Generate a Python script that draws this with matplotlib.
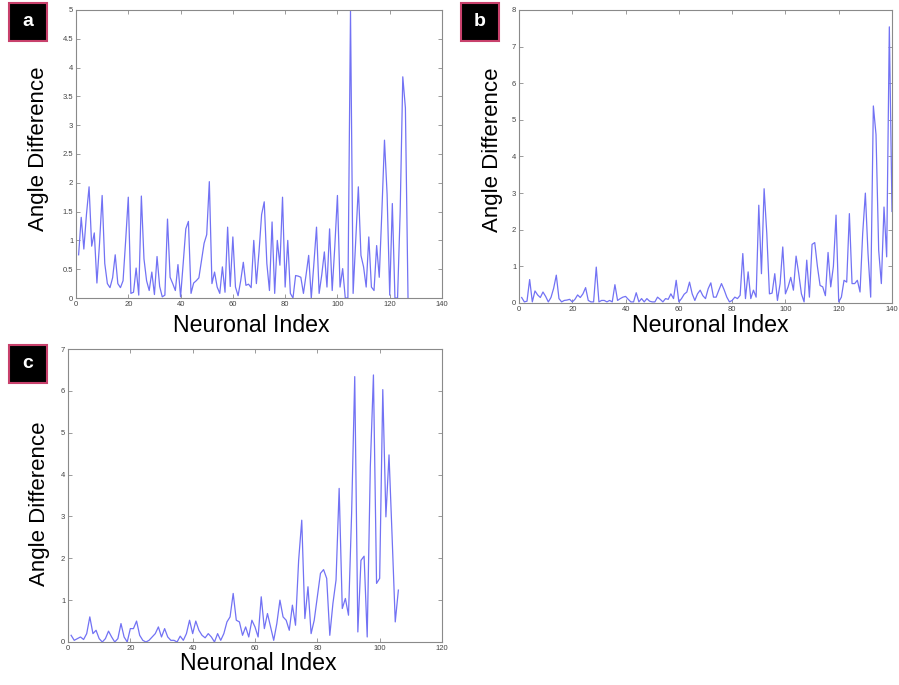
import numpy as np
import matplotlib
matplotlib.use("Agg")
import matplotlib.pyplot as plt
from matplotlib.patches import Rectangle

plt.rcParams['font.family'] = ['Liberation Sans', 'DejaVu Sans']

# ---------------- data ----------------
panel_a_values = [
    0.75, 1.40, 0.85, 1.45, 1.93, 0.90, 1.13, 0.26, 0.95, 1.78,
    0.60, 0.25, 0.18, 0.35, 0.75, 0.25, 0.18, 0.30, 1.00, 1.75,
    0.08, 0.10, 0.52, 0.05, 1.77, 0.68, 0.30, 0.13, 0.45, 0.06,
    0.72, 0.20, 0.02, 0.05, 1.37, 0.36, 0.25, 0.13, 0.58, 0.02,
    0.60, 1.20, 1.33, 0.08, 0.26, 0.30, 0.35, 0.65, 0.95, 1.10,
    2.02, 0.25, 0.45, 0.19, 0.08, 0.54, 0.10, 1.23, 0.20, 1.06,
    0.19, 0.04, 0.30, 0.62, 0.22, 0.24, 0.18, 1.00, 0.25, 0.80,
    1.45, 1.67, 0.60, 0.13, 1.32, 0.08, 1.00, 0.57, 1.75, 0.19,
    1.00, 0.08, 0.00, 0.39, 0.38, 0.36, 0.08, 0.40, 0.74, 0.00,
    0.60, 1.23, 0.08, 0.40, 0.80, 0.19, 1.20, 0.13, 0.90, 1.78,
    0.19, 0.51, 0.00, 0.00, 4.98, 0.08, 1.00, 1.93, 0.74, 0.54,
    0.19, 1.06, 0.19, 0.13, 0.91, 0.36, 1.50, 2.74, 1.80, 0.05,
    1.64, 0.00, 0.00, 1.50, 3.84, 3.30, 0.00,
]

panel_b_values = [
    0.15, 0.03, 0.05, 0.64, 0.03, 0.33, 0.22, 0.15, 0.30, 0.18,
    0.03, 0.15, 0.40, 0.76, 0.12, 0.03, 0.07, 0.08, 0.10, 0.03,
    0.10, 0.22, 0.15, 0.25, 0.42, 0.07, 0.03, 0.03, 0.98, 0.03,
    0.07, 0.07, 0.03, 0.07, 0.03, 0.50, 0.07, 0.12, 0.16, 0.18,
    0.10, 0.03, 0.03, 0.28, 0.03, 0.12, 0.03, 0.12, 0.05, 0.03,
    0.03, 0.16, 0.10, 0.03, 0.12, 0.10, 0.25, 0.12, 0.62, 0.03,
    0.12, 0.24, 0.30, 0.57, 0.25, 0.07, 0.25, 0.35, 0.20, 0.12,
    0.39, 0.55, 0.16, 0.16, 0.35, 0.53, 0.36, 0.16, 0.03, 0.07,
    0.16, 0.12, 0.21, 1.35, 0.12, 0.85, 0.12, 0.35, 0.16, 2.67,
    0.80, 3.12, 1.90, 0.25, 0.27, 0.80, 0.07, 0.53, 1.53, 0.25,
    0.44, 0.70, 0.35, 1.28, 0.80, 0.25, 0.03, 1.17, 0.16, 1.60,
    1.65, 1.00, 0.48, 0.44, 0.20, 1.38, 0.44, 1.00, 2.40, 0.03,
    0.16, 0.62, 0.57, 2.44, 0.53, 0.53, 0.62, 0.30, 1.90, 3.00,
    1.35, 0.16, 5.38, 4.60, 1.44, 0.53, 2.62, 1.26, 7.54, 2.50,
]

panel_c_values = [
    0.16, 0.04, 0.08, 0.12, 0.06, 0.20, 0.60, 0.20, 0.28, 0.08,
    0.00, 0.08, 0.26, 0.12, 0.00, 0.08, 0.44, 0.12, 0.00, 0.32,
    0.32, 0.50, 0.16, 0.04, 0.00, 0.04, 0.12, 0.20, 0.36, 0.12,
    0.32, 0.12, 0.04, 0.04, 0.00, 0.14, 0.04, 0.20, 0.52, 0.20,
    0.50, 0.28, 0.16, 0.10, 0.20, 0.12, 0.00, 0.20, 0.04, 0.20,
    0.48, 0.60, 1.16, 0.52, 0.48, 0.16, 0.36, 0.12, 0.52, 0.36,
    0.12, 1.08, 0.32, 0.68, 0.36, 0.04, 0.44, 1.00, 0.60, 0.52,
    0.28, 0.88, 0.40, 1.95, 2.91, 0.56, 1.32, 0.20, 0.52, 1.08,
    1.64, 1.73, 1.52, 0.16, 0.92, 1.48, 3.67, 0.80, 1.04, 0.64,
    3.07, 6.34, 0.24, 1.95, 2.05, 0.12, 4.19, 6.38, 1.40, 1.52,
    6.03, 2.99, 4.47, 2.50, 0.48, 1.24,
]

panel_letters = ['a', 'b', 'c']
x_label = 'Neuronal Index'
y_label = 'Angle Difference'
a_xticks = [0, 20, 40, 60, 80, 100, 120, 140]
a_yticks = [0, 0.5, 1, 1.5, 2, 2.5, 3, 3.5, 4, 4.5, 5]
a_yticklabels = ['0', '0.5', '1', '1.5', '2', '2.5', '3', '3.5', '4', '4.5', '5']
b_xticks = [0, 20, 40, 60, 80, 100, 120, 140]
b_yticks = [0, 1, 2, 3, 4, 5, 6, 7, 8]
c_xticks = [0, 20, 40, 60, 80, 100, 120]
c_yticks = [0, 1, 2, 3, 4, 5, 6, 7]

# ---------------- figure ----------------
W, H = 899, 685
fig = plt.figure(figsize=(W / 100, H / 100), dpi=100)
fig.patch.set_facecolor('white')


def px_axes(l, t, r, b):
    return fig.add_axes([l / W, 1 - b / H, (r - l) / W, (b - t) / H])


line_color = '#7272f4'
spine_color = '#8a8a8a'
tick_color = '#444444'


def style(ax, xt, yt, ylabels=None):
    ax.set_xticks(xt)
    ax.set_xticklabels([str(v) for v in xt])
    ax.set_yticks(yt)
    if ylabels is None:
        ylabels = [str(v) for v in yt]
    ax.set_yticklabels(ylabels)
    ax.tick_params(direction='in', length=3, width=0.6, top=True, right=True,
                   labelsize=5.5, colors=spine_color, labelcolor=tick_color, pad=2)
    for s in ax.spines.values():
        s.set_color(spine_color)
        s.set_linewidth(0.8)


# panel a
ax_a = px_axes(76, 10, 442, 298)
xa = np.arange(1, len(panel_a_values) + 1)
ax_a.plot(xa, panel_a_values, color=line_color, lw=0.9)
ax_a.set_xlim(0, 140)
ax_a.set_ylim(0, 5)
style(ax_a, a_xticks, a_yticks, a_yticklabels)

# panel b
ax_b = px_axes(519, 10, 892, 303)
xb = np.arange(1, len(panel_b_values) + 1)
ax_b.plot(xb, panel_b_values, color=line_color, lw=0.9)
ax_b.set_xlim(0, 140)
ax_b.set_ylim(0, 8)
style(ax_b, b_xticks, b_yticks)

# panel c
ax_c = px_axes(68, 349, 442, 642)
xc = np.arange(1, len(panel_c_values) + 1)
ax_c.plot(xc, panel_c_values, color=line_color, lw=0.9)
ax_c.set_xlim(0, 120)
ax_c.set_ylim(0, 7)
style(ax_c, c_xticks, c_yticks)

# axis labels (figure text in pixel positions)
ylabel_fs = 16
xlabel_fs = 16.7


def ftext(x, y, s, **kw):
    fig.text(x / W, 1 - y / H, s, **kw)


ftext(39, 149, y_label, rotation=90, ha='center', va='center', fontsize=ylabel_fs, color='black')
ftext(493, 150, y_label, rotation=90, ha='center', va='center', fontsize=ylabel_fs, color='black')
ftext(40, 504, y_label, rotation=90, ha='center', va='center', fontsize=ylabel_fs, color='black')

ftext(251, 325, x_label, ha='center', va='center', fontsize=xlabel_fs, color='black')
ftext(710, 325, x_label, ha='center', va='center', fontsize=xlabel_fs, color='black')
ftext(258, 663, x_label, ha='center', va='center', fontsize=xlabel_fs, color='black')

# panel letter boxes
boxes = [(9, 3), (461, 3), (9, 345)]
for letter, (bx, by) in zip(panel_letters, boxes):
    rect = Rectangle((bx / W, 1 - (by + 38) / H), 38 / W, 38 / H,
                     transform=fig.transFigure, facecolor='black',
                     edgecolor='#c8416c', linewidth=1.5)
    fig.patches.append(rect)
    ftext(bx + 19, by + 19, letter, ha='center', va='center', fontsize=14,
          fontweight='bold', color='white')

fig.savefig('out.png', dpi=100, facecolor='white')
